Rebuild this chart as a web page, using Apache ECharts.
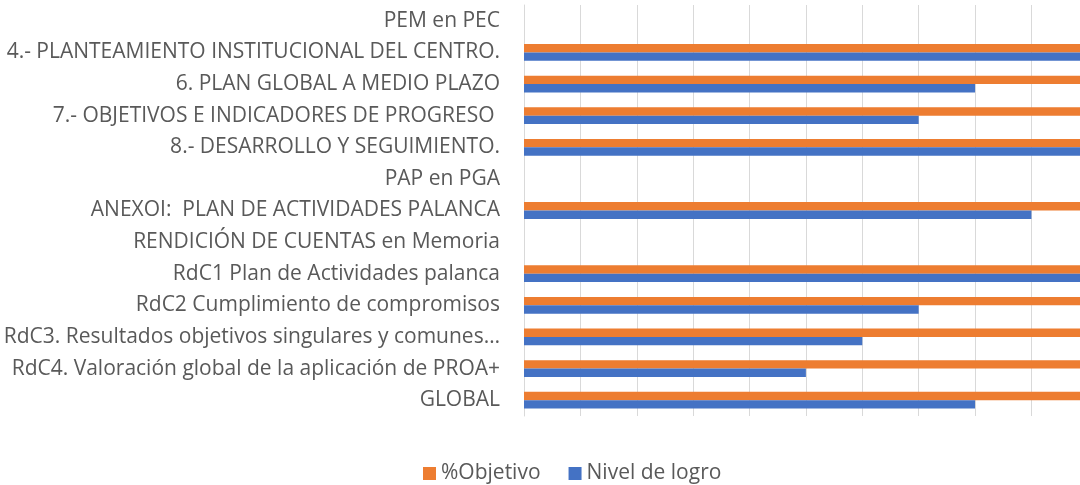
<!DOCTYPE html>
<html>
<head>
<meta charset="utf-8">
<script src="https://cdn.jsdelivr.net/npm/echarts@6/dist/echarts.min.js"></script>
<style>
  html, body { margin: 0; padding: 0; background: #fff; }
  #chart { width: 1080px; height: 485px; }
</style>
</head>
<body>
<div id="chart"></div>
<script>
const categorias = [
  "PEM en PEC",
  "4.- PLANTEAMIENTO INSTITUCIONAL DEL CENTRO.",
  "6. PLAN GLOBAL A MEDIO PLAZO",
  "7.- OBJETIVOS E INDICADORES DE PROGRESO ",
  "8.- DESARROLLO Y SEGUIMIENTO.",
  "PAP en PGA",
  "ANEXOI:  PLAN DE ACTIVIDADES PALANCA",
  "RENDICIÓN DE CUENTAS en Memoria",
  "RdC1 Plan de Actividades palanca",
  "RdC2 Cumplimiento de compromisos",
  "RdC3. Resultados objetivos singulares y comunes…",
  "RdC4. Valoración global de la aplicación de PROA+",
  "GLOBAL"
];
const objetivo = [null, 1, 1, 1, 1, null, 1, null, 1, 1, 1, 1, 1];
const nivelLogro = [null, 1, 0.8, 0.7, 1, null, 0.9, null, 1, 0.7, 0.6, 0.5, 0.8];

const font = "'Open Sans', 'Noto Sans', sans-serif";
const gris = "#595959";

// el gráfico original está recortado: el 100% queda unos px fuera del lienzo
const xMax = 556 / 563.8;

const chart = echarts.init(document.getElementById("chart"));
chart.setOption({
  animation: false,
  color: ["#ED7D31", "#4472C4"],
  grid: { left: 524, top: 5, right: 0, height: 411, containLabel: false },
  xAxis: {
    type: "value",
    min: 0,
    max: xMax,
    interval: 0.1,
    axisLabel: { show: false },
    axisLine: { show: false },
    axisTick: { show: false },
    splitLine: { show: true, lineStyle: { color: "#d9d9d9", width: 1 } }
  },
  yAxis: {
    type: "category",
    inverse: true,
    data: categorias,
    axisLine: { show: true, lineStyle: { color: "#d9d9d9" } },
    axisTick: { show: false },
    axisLabel: { color: gris, fontSize: 21, fontFamily: font, margin: 24 }
  },
  legend: {
    left: 418,
    top: 458,
    itemWidth: 13,
    itemHeight: 13,
    itemGap: 28,
    icon: "rect",
    textStyle: { color: gris, fontSize: 21, fontFamily: font },
    data: ["%Objetivo", "Nivel de logro"]
  },
  series: [
    {
      name: "%Objetivo",
      type: "bar",
      data: objetivo,
      barGap: "0%",
      barCategoryGap: "47%"
    },
    {
      name: "Nivel de logro",
      type: "bar",
      data: nivelLogro,
      barGap: "0%",
      barCategoryGap: "47%"
    }
  ]
});
</script>
</body>
</html>
